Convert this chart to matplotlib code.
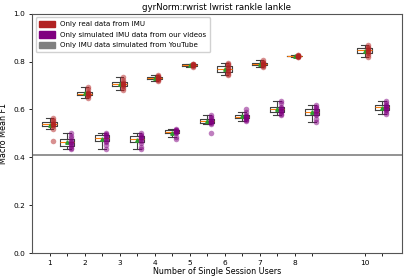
import matplotlib
matplotlib.use('Agg')
import matplotlib.pyplot as plt
import matplotlib.patches as mpatches
import numpy as np

# ---------------------------------------------------------------------------
# Data
# ---------------------------------------------------------------------------
users = [1, 2, 3, 4, 5, 6, 7, 8, 10]

real_scores = [
    [0.47, 0.52, 0.53, 0.535, 0.54, 0.54, 0.545, 0.55, 0.555, 0.565],
    [0.65, 0.655, 0.66, 0.662, 0.665, 0.667, 0.67, 0.675, 0.685, 0.692],
    [0.681, 0.69, 0.697, 0.702, 0.706, 0.708, 0.712, 0.716, 0.725, 0.734],
    [0.718, 0.722, 0.726, 0.73, 0.733, 0.735, 0.737, 0.74, 0.743],
    [0.779, 0.782, 0.784, 0.786, 0.787, 0.789, 0.79, 0.792],
    [0.744, 0.75, 0.757, 0.762, 0.768, 0.772, 0.778, 0.784, 0.79, 0.795],
    [0.778, 0.782, 0.786, 0.789, 0.791, 0.793, 0.796, 0.8, 0.805],
    [0.818, 0.82, 0.822, 0.823, 0.824, 0.825, 0.826, 0.828],
    [0.818, 0.828, 0.836, 0.842, 0.846, 0.849, 0.852, 0.856, 0.862, 0.869],
]

sim_scores = [
    [0.437, 0.44, 0.447, 0.455, 0.46, 0.465, 0.47, 0.48, 0.49, 0.50],
    [0.437, 0.45, 0.465, 0.47, 0.478, 0.482, 0.488, 0.493, 0.498, 0.50],
    [0.437, 0.445, 0.462, 0.468, 0.475, 0.48, 0.485, 0.49, 0.495, 0.50],
    [0.475, 0.485, 0.50, 0.505, 0.508, 0.51, 0.513, 0.515, 0.52],
    [0.503, 0.538, 0.542, 0.546, 0.55, 0.553, 0.558, 0.563, 0.57, 0.578],
    [0.553, 0.558, 0.562, 0.565, 0.567, 0.569, 0.572, 0.578, 0.59, 0.60],
    [0.577, 0.582, 0.588, 0.594, 0.598, 0.602, 0.607, 0.612, 0.625, 0.635],
    [0.548, 0.56, 0.575, 0.582, 0.588, 0.592, 0.598, 0.605, 0.612, 0.62],
    [0.58, 0.59, 0.598, 0.603, 0.607, 0.61, 0.614, 0.618, 0.625, 0.635],
]

baseline = 0.41
labels = ['Only real data from IMU',
          'Only simulated IMU data from our videos',
          'Only IMU data simulated from YouTube']
colors = ['#b22222', '#800080', '#808080']

# ---------------------------------------------------------------------------
# Plot
# ---------------------------------------------------------------------------
fig = plt.figure(figsize=(4.07, 2.8), dpi=100)
ax = fig.add_axes([0.079, 0.096, 0.908, 0.855])

real_pos = np.array(users, dtype=float)
sim_pos = real_pos + 0.5

box_kw = dict(widths=0.42, showmeans=True, showfliers=False,
              boxprops=dict(color='#404040', linewidth=0.8),
              whiskerprops=dict(color='#404040', linewidth=0.8),
              capprops=dict(color='#404040', linewidth=0.8),
              medianprops=dict(color='#ff7f0e', linewidth=0.8),
              meanprops=dict(marker='^', markersize=2.5, markerfacecolor='#2ca02c',
                             markeredgecolor='#2ca02c'))

ax.boxplot(real_scores, positions=real_pos, manage_ticks=False, **box_kw)
ax.boxplot(sim_scores, positions=sim_pos, manage_ticks=False, **box_kw)

for p, vals in zip(real_pos, real_scores):
    ax.scatter(np.full(len(vals), p + 0.1), vals, s=16, color=colors[0],
               alpha=0.5, linewidths=0, zorder=3)
for p, vals in zip(sim_pos, sim_scores):
    ax.scatter(np.full(len(vals), p + 0.1), vals, s=16, color=colors[1],
               alpha=0.5, linewidths=0, zorder=3)

ax.axhline(baseline, color='#808080', linewidth=1.2)

ticks = sorted(list(real_pos) + list(sim_pos))
ax.set_xticks(ticks)
ax.set_xticklabels([str(int(t)) if t == int(t) else '' for t in ticks])
ax.set_xlim(0.5, 11.06)
ax.set_ylim(0, 1.0)
ax.set_yticks([0.0, 0.2, 0.4, 0.6, 0.8, 1.0])
ax.tick_params(labelsize=5.3, length=2.5, width=0.6, pad=2.5)
for s in ax.spines.values():
    s.set_color('#555555')
    s.set_linewidth(0.8)

ax.set_title('gyrNorm:rwrist lwrist rankle lankle', fontsize=6.2, pad=3)
ax.set_xlabel('Number of Single Session Users', fontsize=5.8, labelpad=1)
ax.set_ylabel('Macro Mean F1', fontsize=5.8, labelpad=4)

handles = [mpatches.Patch(color=c, label=l) for c, l in zip(colors, labels)]
ax.legend(handles=handles, loc='upper left', fontsize=5.1, handlelength=2.2,
          handleheight=1.0, borderpad=0.5, labelspacing=0.55, framealpha=0.9)

fig.savefig('out.png', dpi=100)
